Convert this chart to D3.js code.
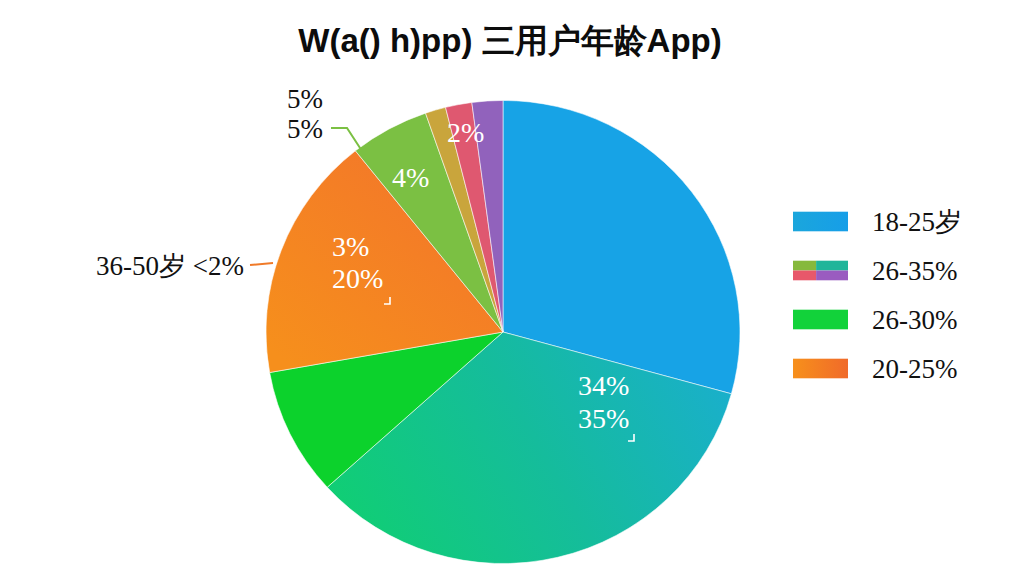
<!DOCTYPE html>
<html><head><meta charset="utf-8">
<script src="https://cdn.jsdelivr.net/npm/d3@7"></script>
<style>body{margin:0;background:#fff;}svg{display:block;}</style>
</head><body>
<svg id="c" width="1024" height="576"></svg>
<script>
const title = "W(a() h)pp) 三用户年龄App)";
const sliceNames = ["18-25岁","26-35岁a","26-35岁b","36-50岁","26-35岁c","26-35岁d","26-35岁e","26-35岁f"];
const sliceValues = [29.3, 34.0, 8.9, 17.1, 5.4, 1.4, 1.8, 2.1];
const sliceColors = ["#17a3e6","url(#gTeal)","#0cd22c","url(#gOrange)","#7bc043","#c9a53c","#df5870","#9162bc"];
const legendLabels = ["18-25岁","26-35%","26-30%","20-25%"];
const legendColors = ["url(#lgBlue)","multi","#12d23a","url(#lgOrange)"];
const insideLabels = ["34%","35%","3%","20%","4%","2%"];
const outsideLabels = ["5%","5%","36-50岁 <2%"];

const svg = d3.select("#c");
const defs = svg.append("defs");
function lin(id, x1,y1,x2,y2, stops, units){
  const g = defs.append("linearGradient").attr("id",id)
    .attr("x1",x1).attr("y1",y1).attr("x2",x2).attr("y2",y2);
  if(units) g.attr("gradientUnits",units);
  stops.forEach(s=>g.append("stop").attr("offset",s[0]).attr("stop-color",s[1]));
}
lin("gTeal", 230, 20, -150, 230, [[0,"#1aaed0"],[0.5,"#15bc9c"],[1,"#10cf72"]], "userSpaceOnUse");
lin("gOrange", -60, -180, -230, 20, [[0,"#f3762a"],[1,"#f68f1c"]], "userSpaceOnUse");
lin("lgBlue", 0,0,1,0, [[0,"#1ba6dc"],[1,"#169ee8"]]);
lin("lgOrange", 0,0,1,0, [[0,"#f7901b"],[1,"#f06a2a"]]);

const cx = 503, cy = 332, R = 237;
const pie = d3.pie().sort(null).value(d=>d)(sliceValues);
const arc = d3.arc().innerRadius(0).outerRadius(R);
const gp = svg.append("g").attr("transform",`translate(${cx},${cy}) scale(1,0.977)`);
gp.selectAll("path").data(pie).join("path")
  .attr("d",arc)
  .attr("fill",(d,i)=>sliceColors[i])
  .attr("stroke","#ffffff").attr("stroke-opacity",0.7).attr("stroke-width",0.8);

// title
svg.append("text").attr("x",510).attr("y",52).attr("text-anchor","middle")
  .attr("font-family","Liberation Sans, Arial, sans-serif").attr("font-weight","bold")
  .attr("font-size",33).attr("fill","#0c0c0c").text(title);

const serif = "Liberation Serif, Times New Roman, serif";
// inside labels
const inPos = [[578,395],[578,428],[332,256],[332,288],[392,187],[447,142]];
insideLabels.forEach((t,i)=>{
  svg.append("text").attr("x",inPos[i][0]).attr("y",inPos[i][1])
    .attr("font-family",serif).attr("font-size",28).attr("fill","#fff").text(t);
});
// small corner marks
[[628,441],[384,304]].forEach(p=>{
  svg.append("path").attr("d",`M${p[0]+6},${p[1]-7}V${p[1]}H${p[0]}`)
    .attr("fill","none").attr("stroke","#fff").attr("stroke-width",1.6);
});
// outside labels
const outPos = [[287,108],[287,138],[96,275]];
outsideLabels.forEach((t,i)=>{
  svg.append("text").attr("x",outPos[i][0]).attr("y",outPos[i][1])
    .attr("font-family",serif).attr("font-size",27).attr("fill","#111").text(t);
});
// leader lines
const lg = d3.line();
svg.append("path").attr("d",lg([[331,128],[347,128],[362,151]]))
  .attr("fill","none").attr("stroke","#7bc043").attr("stroke-width",2);
svg.append("path").attr("d",lg([[250,265],[273,263]]))
  .attr("fill","none").attr("stroke","#f07a28").attr("stroke-width",2);

// legend
const ly = d3.scaleBand().domain(legendLabels).range([197,393]).paddingInner(0.6).paddingOuter(0.3);
const leg = svg.append("g");
legendLabels.forEach((t,i)=>{
  const y = ly(t), h = ly.bandwidth(), x = 793, w = 55;
  if(legendColors[i]==="multi"){
    const cells = [[0,0,0.42,0.5,"#86b93c"],[0.42,0,0.58,0.5,"#20b59a"],[0,0.5,0.42,0.5,"#e8586a"],[0.42,0.5,0.58,0.5,"#9a5cc0"]];
    cells.forEach(c=>leg.append("rect").attr("x",x+c[0]*w).attr("y",y+c[1]*h)
      .attr("width",c[2]*w).attr("height",c[3]*h).attr("fill",c[4]));
  } else {
    leg.append("rect").attr("x",x).attr("y",y).attr("width",w).attr("height",h).attr("fill",legendColors[i]);
  }
  leg.append("text").attr("x",872).attr("y",y+h/2+9).attr("font-family",serif)
    .attr("font-size",27).attr("fill","#111").text(t);
});
</script>
</body></html>
